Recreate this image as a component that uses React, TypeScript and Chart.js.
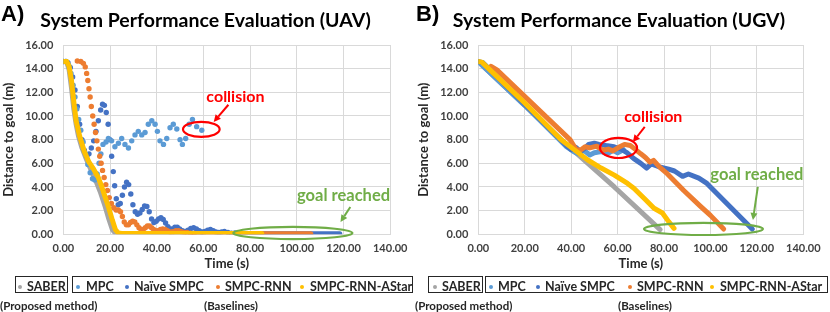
import React, { useEffect, useRef } from "react";
import { Chart, registerables } from "chart.js";

Chart.register(...registerables);

const FONT = "Lato, 'Open Sans', sans-serif";

const SERIES_NAMES = ["SABER", "MPC", "Naïve SMPC", "SMPC-RNN", "SMPC-RNN-AStar"];
const SERIES_COLORS = ["#A5A5A5", "#5B9BD5", "#4472C4", "#ED7D31", "#FFC000"];

const X_MIN = 0;
const X_MAX = 140;
const X_STEP = 20;
const Y_MIN = 0;
const Y_MAX = 16;
const Y_STEP = 2;

// ---------- UAV (panel A) ----------
const uavSaberT = [0, 1.5, 2.5, 3.5, 4.5, 5.5, 6.5, 8, 10, 12, 14, 16, 18, 19.5, 21, 22.5, 24, 60];
const uavSaberD = [14.6, 14.55, 13.9, 12.4, 10.6, 9.3, 8.3, 7.3, 6.3, 5.4, 4.5, 3.5, 2.3, 1.3, 0.4, 0.05, 0.03, 0.03];

const uavMpcT = [0, 1.2, 2.3, 3.3, 4.2, 5, 5.8, 6.6, 7.5, 8.5, 9.5, 10.5, 11.5, 12.5, 13.5, 14.5, 15.3, 16.1, 17, 18.3, 19.3, 20.7, 22.1, 23.6, 25, 26.4, 27.9, 29.3, 30.7, 32.1, 33.6, 35, 36.4, 37.9, 39.3, 40.3, 41.4, 42.9, 44.3, 45.7, 47.1, 48.6, 50, 51, 52.4, 53.9, 55.3, 57.1, 59.3];
const uavMpcD = [14.6, 14.6, 14.3, 13.6, 12.6, 11.6, 10.6, 9.7, 8.8, 7.8, 6.8, 5.9, 5.2, 4.7, 4.6, 5.1, 6.0, 6.8, 7.6, 7.8, 8.1, 7.9, 7.4, 7.7, 8.1, 7.6, 7.3, 7.9, 8.4, 8.7, 8.4, 8.6, 9.3, 9.6, 9.3, 8.7, 7.9, 7.6, 8.1, 9.0, 9.3, 8.9, 8.0, 7.6, 8.1, 9.3, 9.7, 9.1, 8.8];

const uavNaiveT = [0, 1, 2, 3, 4, 5, 6, 7, 8, 9, 10, 11, 12, 13, 14, 15, 16, 16.8, 17.6, 18.4, 19.2, 20, 20.7, 21.4, 22, 22.7, 23.5, 24.4, 25.3, 26.2, 27.1, 28, 28.9, 29.8, 30.8, 31.8, 32.8, 33.8, 34.8, 35.8, 36.8, 37.8, 38.8, 39.8, 40.8, 41.8, 42.8, 43.8, 44.8, 45.8, 46.8, 47.8, 48.8, 49.8, 51, 52.2, 53.4, 54.6, 55.8, 57, 58.2, 59.4, 60.6, 61.8, 63, 64.2, 65.4, 66.6, 67.8, 69, 70.5, 72, 73.5, 75];
const uavNaiveD = [14.6, 14.6, 14.5, 14.1, 13.3, 12.2, 10.8, 9.3, 8.0, 7.1, 6.6, 6.8, 7.3, 7.9, 8.7, 9.6, 10.5, 11.0, 10.9, 10.3, 9.3, 8.0, 6.6, 5.3, 4.1, 3.0, 2.5, 2.6, 3.3, 4.0, 4.4, 4.2, 3.4, 2.5, 1.9, 1.7, 1.8, 2.1, 2.4, 2.35, 1.9, 1.3, 1.0, 1.1, 1.3, 1.4, 1.25, 0.95, 0.65, 0.45, 0.45, 0.6, 0.6, 0.45, 0.3, 0.25, 0.35, 0.5, 0.55, 0.45, 0.3, 0.2, 0.25, 0.35, 0.4, 0.3, 0.2, 0.15, 0.2, 0.25, 0.15, 0.1, 0.12, 0.08];
const uavNaiveTailT = [74, 118.4];
const uavNaiveTailD = [0.05, 0.05];

const uavRnnT = [6, 7.5, 8.6, 9.4, 10, 10.5, 11, 11.5, 12, 12.6, 13.2, 13.8, 14.4, 15, 15.6, 16.2, 16.8, 17.5, 18.2, 18.9, 19.7, 20.6, 21.6, 22.6, 23.6, 24.5, 25.3, 26.1, 27, 27.9, 28.8, 29.7, 30.6, 31.5, 32.4, 33.3, 34.2, 35.1, 36, 36.9, 37.8, 38.7, 39.6, 40.6, 41.6, 42.6, 43.6, 44.6, 45.8, 47, 48.2, 49.4, 50.6, 51.8, 53, 54.5, 56];
const uavRnnD = [14.65, 14.6, 14.45, 14.15, 13.6, 13.0, 12.3, 11.6, 10.8, 10.0, 9.3, 8.6, 7.9, 7.2, 6.6, 6.0, 5.4, 4.8, 4.2, 3.7, 3.1, 2.6, 2.25, 2.05, 2.05, 1.9, 1.5, 1.05, 0.8, 0.8, 1.0, 1.1, 1.05, 0.8, 0.55, 0.4, 0.4, 0.55, 0.7, 0.7, 0.55, 0.4, 0.3, 0.3, 0.4, 0.45, 0.4, 0.3, 0.2, 0.22, 0.3, 0.3, 0.22, 0.15, 0.15, 0.1, 0.08];
const uavRnnTailT = [55, 106];
const uavRnnTailD = [0.05, 0.05];

const uavAstarT = [0, 1.5, 2.5, 3.5, 4.5, 5.5, 7, 9, 11, 13, 15, 16.5, 18, 19.5, 21, 22.3, 23.5, 25, 85];
const uavAstarD = [14.6, 14.6, 14.2, 13.0, 11.2, 9.6, 8.3, 7.0, 6.1, 5.5, 4.8, 4.0, 3.1, 2.2, 1.2, 0.4, 0.12, 0.07, 0.07];

// ---------- UGV (panel B) ----------
const ugvSaberT = [0, 35.7, 58.6, 78.3];
const ugvSaberD = [14.6, 8.0, 4.0, 0.4];

const ugvMpcT = [0, 20, 38, 41, 43, 45.5, 48, 50, 53, 55.5, 58, 60, 62.5];
const ugvMpcD = [14.6, 10.9, 7.4, 7.0, 6.8, 7.1, 6.7, 6.9, 7.0, 6.8, 7.1, 6.9, 7.15];

const ugvNaiveT = [0, 2, 20, 38, 40, 42, 44, 46, 47.5, 50, 52, 55, 58.5, 61.5, 64, 67, 70, 72.5, 74.5, 78, 82, 84.5, 88, 90.5, 95, 98.5, 118];
const ugvNaiveD = [14.6, 14.5, 11.0, 7.5, 7.15, 7.35, 7.0, 7.3, 7.6, 7.7, 7.6, 7.5, 7.4, 7.2, 6.9, 6.4, 6.0, 5.6, 5.95, 5.7, 5.5, 5.35, 4.9, 5.1, 4.75, 4.3, 0.45];

const ugvRnnT = [5.5, 8, 39.5, 42, 44, 46, 48, 51, 53.5, 56, 58, 60.5, 63, 65.5, 67.5, 70, 72, 74, 75.5, 78, 81.5, 88.5, 95.5, 100, 105.7];
const ugvRnnD = [14.2, 13.9, 8.0, 7.2, 7.1, 7.4, 7.3, 7.45, 7.1, 7.2, 7.05, 7.35, 7.6, 7.5, 7.2, 6.8, 6.5, 6.1, 6.25, 5.7, 5.1, 3.7, 2.4, 1.6, 0.45];

const ugvAstarT = [0, 1.5, 20, 35.7, 41, 47, 52.9, 58.6, 64.3, 67, 71.4, 75.7, 79.3, 82, 84.3];
const ugvAstarD = [14.6, 14.55, 11.1, 8.0, 7.2, 6.3, 5.6, 5.0, 4.3, 3.9, 3.05, 2.2, 1.8, 1.07, 0.5];

type Note =
  | { kind: "ellipse"; t: number; d: number; rt: number; rd: number; color: string }
  | { kind: "arrow"; t1: number; d1: number; t2: number; d2: number; color: string }
  | { kind: "text"; t: number; d: number; text: string; color: string; size: number };

const RED = "#FF0000";
const GREEN = "#70AD47";

const uavNotes: Note[] = [
  { kind: "text", t: 73.7, d: 11.6, text: "collision", color: RED, size: 16 },
  { kind: "arrow", t1: 70.7, d1: 10.95, t2: 64.4, d2: 9.5, color: RED },
  { kind: "ellipse", t: 59.1, d: 8.87, rt: 7.85, rd: 0.64, color: RED },
  { kind: "text", t: 120, d: 3.24, text: "goal reached", color: GREEN, size: 16.5 },
  { kind: "arrow", t1: 122.9, d1: 2.31, t2: 118.7, d2: 1.04, color: GREEN },
  { kind: "ellipse", t: 98.3, d: 0.11, rt: 25.5, rd: 0.51, color: GREEN },
];

const ugvNotes: Note[] = [
  { kind: "text", t: 75.4, d: 9.93, text: "collision", color: RED, size: 16 },
  { kind: "arrow", t1: 71.7, d1: 9.08, t2: 66.6, d2: 7.8, color: RED },
  { kind: "ellipse", t: 60.4, d: 7.3, rt: 7.97, rd: 0.85, color: RED },
  { kind: "text", t: 120, d: 5.0, text: "goal reached", color: GREEN, size: 16.5 },
  { kind: "arrow", t1: 120.4, d1: 4.0, t2: 118.3, d2: 1.21, color: GREEN },
  { kind: "ellipse", t: 97, d: 0.45, rt: 25.6, rd: 0.51, color: GREEN },
];

function pts(t: number[], d: number[]) {
  return t.map((x, i) => ({ x, y: d[i] }));
}

function dots(t: number[], d: number[], color: string, order: number) {
  return {
    data: pts(t, d),
    showLine: false,
    pointRadius: 2.7,
    pointBorderWidth: 0,
    pointBackgroundColor: color,
    backgroundColor: color,
    borderColor: color,
    order,
  };
}

function line(t: number[], d: number[], color: string, order: number, width: number) {
  return {
    data: pts(t, d),
    showLine: true,
    pointRadius: 0,
    borderWidth: width,
    borderColor: color,
    backgroundColor: color,
    borderCapStyle: "round",
    borderJoinStyle: "round",
    tension: 0,
    order,
  };
}

function notesPlugin(notes: Note[]) {
  return {
    id: "notes",
    afterDatasetsDraw(chart: any) {
      const { ctx } = chart;
      const xs = chart.scales.x;
      const ys = chart.scales.y;
      const px = (t: number) => xs.getPixelForValue(t);
      const py = (d: number) => ys.getPixelForValue(d);
      ctx.save();
      for (const n of notes) {
        if (n.kind === "ellipse") {
          const cx = px(n.t);
          const cy = py(n.d);
          const rx = Math.abs(px(n.t + n.rt) - cx);
          const ry = Math.abs(py(n.d + n.rd) - cy);
          ctx.beginPath();
          ctx.ellipse(cx, cy, rx, ry, 0, 0, Math.PI * 2);
          ctx.lineWidth = 2.2;
          ctx.strokeStyle = n.color;
          ctx.stroke();
        } else if (n.kind === "arrow") {
          const x1 = px(n.t1), y1 = py(n.d1), x2 = px(n.t2), y2 = py(n.d2);
          const ang = Math.atan2(y2 - y1, x2 - x1);
          const head = 7;
          const bx = x2 - Math.cos(ang) * head;
          const by = y2 - Math.sin(ang) * head;
          ctx.beginPath();
          ctx.moveTo(x1, y1);
          ctx.lineTo(bx, by);
          ctx.lineWidth = 2;
          ctx.strokeStyle = n.color;
          ctx.stroke();
          ctx.beginPath();
          ctx.moveTo(x2, y2);
          ctx.lineTo(bx + Math.cos(ang + Math.PI / 2) * 3.5, by + Math.sin(ang + Math.PI / 2) * 3.5);
          ctx.lineTo(bx + Math.cos(ang - Math.PI / 2) * 3.5, by + Math.sin(ang - Math.PI / 2) * 3.5);
          ctx.closePath();
          ctx.fillStyle = n.color;
          ctx.fill();
        } else {
          ctx.font = `bold ${n.size}px ${FONT}`;
          ctx.fillStyle = n.color;
          ctx.textAlign = "center";
          ctx.textBaseline = "middle";
          ctx.fillText(n.text, px(n.t), py(n.d));
        }
      }
      ctx.restore();
    },
  };
}

function makeConfig(datasets: any[], notes: Note[], padRight: number) {
  const tickFont = { family: FONT, size: 11, weight: "bold" as const };
  const titleFont = { family: FONT, size: 13, weight: "bold" as const };
  return {
    type: "scatter" as const,
    data: { datasets },
    options: {
      animation: false,
      responsive: false,
      devicePixelRatio: 1,
      layout: { padding: { left: 0, top: 45, right: padRight, bottom: 37.7 } },
      plugins: { legend: { display: false }, tooltip: { enabled: false }, title: { display: false } },
      scales: {
        x: {
          type: "linear",
          min: X_MIN,
          max: X_MAX,
          ticks: {
            stepSize: X_STEP,
            font: tickFont,
            color: "#404040",
            padding: 7.5,
            maxRotation: 0,
            callback: (v: any) => Number(v).toFixed(2),
          },
          grid: { color: "#D9D9D9", lineWidth: 1, drawTicks: false },
          border: { color: "#D9D9D9" },
          title: { display: true, text: "Time (s)", font: titleFont, color: "#262626", padding: { top: 0, bottom: 2.5 } },
          afterFit: (s: any) => {
            s.height = 40;
          },
        },
        y: {
          type: "linear",
          min: Y_MIN,
          max: Y_MAX,
          ticks: {
            stepSize: Y_STEP,
            font: tickFont,
            color: "#404040",
            padding: 10,
            callback: (v: any) => Number(v).toFixed(2),
          },
          grid: { color: "#D9D9D9", lineWidth: 1, drawTicks: false },
          border: { color: "#D9D9D9" },
          title: { display: true, text: "Distance to goal (m)", font: titleFont, color: "#262626", padding: { top: 1.5, bottom: 0 } },
          afterFit: (s: any) => {
            s.width = 63.3;
          },
        },
      },
    },
    plugins: [notesPlugin(notes)],
  };
}

function uavDatasets() {
  const [cS, cM, cN, cR, cA] = SERIES_COLORS;
  return [
    line(uavAstarT, uavAstarD, cA, 0, 5),
    dots(uavRnnT, uavRnnD, cR, 1),
    line(uavRnnTailT, uavRnnTailD, cR, 1, 5),
    dots(uavNaiveT, uavNaiveD, cN, 3),
    line(uavNaiveTailT, uavNaiveTailD, cN, 3, 5),
    dots(uavMpcT, uavMpcD, cM, 2),
    line(uavSaberT, uavSaberD, cS, 4, 5),
  ];
}

function ugvDatasets() {
  const [cS, cM, cN, cR, cA] = SERIES_COLORS;
  return [
    line(ugvAstarT, ugvAstarD, cA, 0, 5),
    line(ugvRnnT, ugvRnnD, cR, 1, 5),
    line(ugvNaiveT, ugvNaiveD, cN, 2, 5),
    line(ugvMpcT, ugvMpcD, cM, 3, 5),
    line(ugvSaberT, ugvSaberD, cS, 4, 5),
  ];
}

function ChartCanvas({ datasets, notes, padRight }: { datasets: () => any[]; notes: Note[]; padRight: number }) {
  const ref = useRef<HTMLCanvasElement | null>(null);
  useEffect(() => {
    if (!ref.current) return;
    const chart = new Chart(ref.current, makeConfig(datasets(), notes, padRight) as any);
    return () => chart.destroy();
  }, []);
  return <canvas ref={ref} width={415} height={312} style={{ display: "block", width: 415, height: 312 }} />;
}

type LegendLayout = {
  box1: [number, number];
  box2: [number, number];
  dots: number[];
  texts: number[];
  proposedLeft: number;
  baselinesCenter: number;
};

const uavLegend: LegendLayout = {
  box1: [15, 68],
  box2: [72, 413],
  dots: [20, 78, 127, 218, 302],
  texts: [27, 86, 134, 225, 310],
  proposedLeft: 0,
  baselinesCenter: 231,
};

const ugvLegend: LegendLayout = {
  box1: [13, 68],
  box2: [70, 413],
  dots: [20, 76, 123, 215, 297],
  texts: [27, 83, 130, 222, 305],
  proposedLeft: 0,
  baselinesCenter: 230,
};

function Legend({ L }: { L: LegendLayout }) {
  const boxStyle = (a: number, b: number): React.CSSProperties => ({
    position: "absolute",
    left: a,
    top: 276,
    width: b - a,
    height: 17,
    border: "1.5px solid #262626",
    boxSizing: "border-box",
  });
  const textStyle: React.CSSProperties = {
    position: "absolute",
    top: 279,
    fontSize: 12.5,
    fontWeight: 700,
    lineHeight: "15px",
    color: "#262626",
    whiteSpace: "nowrap",
  };
  return (
    <>
      <div style={boxStyle(L.box1[0], L.box1[1])} />
      <div style={boxStyle(L.box2[0], L.box2[1])} />
      {SERIES_NAMES.map((name, i) => (
        <React.Fragment key={name}>
          <div
            style={{
              position: "absolute",
              left: L.dots[i] - 2.2,
              top: 287 - 2.2,
              width: 4.4,
              height: 4.4,
              borderRadius: "50%",
              background: SERIES_COLORS[i],
            }}
          />
          <div style={{ ...textStyle, left: L.texts[i] }}>{name}</div>
        </React.Fragment>
      ))}
      <div style={{ ...textStyle, top: 298, fontSize: 11.5, left: L.proposedLeft }}>(Proposed method)</div>
      <div style={{ ...textStyle, top: 298, fontSize: 11.5, left: L.baselinesCenter, transform: "translateX(-50%)" }}>(Baselines)</div>
    </>
  );
}

function Panel({ left, label, title, datasets, notes, padRight, legend, titleWidth }: any) {
  return (
    <div style={{ position: "absolute", left, top: 0, width: 415, height: 312 }}>
      <ChartCanvas datasets={datasets} notes={notes} padRight={padRight} />
      <div
        style={{
          position: "absolute",
          left: 1,
          top: 0,
          fontSize: 22,
          fontWeight: 700,
          lineHeight: "28px",
          color: "#000",
          fontFamily: "'Liberation Sans', Arial, sans-serif",
        }}
      >
        {label}
      </div>
      <div
        style={{
          position: "absolute",
          left: 0,
          top: 7,
          width: titleWidth,
          textAlign: "center",
          fontSize: 19.5,
          fontWeight: 700,
          lineHeight: "26px",
          color: "#000",
          whiteSpace: "nowrap",
        }}
      >
        {title}
      </div>
      <Legend L={legend} />
    </div>
  );
}

export default function App() {
  return (
    <div
      style={{
        position: "fixed",
        left: 0,
        top: 0,
        width: 830,
        height: 312,
        background: "#fff",
        overflow: "hidden",
        fontFamily: FONT,
      }}
    >
      <Panel
        left={0}
        label="A)"
        title="System Performance Evaluation (UAV)"
        datasets={uavDatasets}
        notes={uavNotes}
        padRight={21.7}
        legend={uavLegend}
        titleWidth={411}
      />
      <Panel
        left={415}
        label="B)"
        title="System Performance Evaluation (UGV)"
        datasets={ugvDatasets}
        notes={ugvNotes}
        padRight={26.7}
        legend={ugvLegend}
        titleWidth={408}
      />
    </div>
  );
}
